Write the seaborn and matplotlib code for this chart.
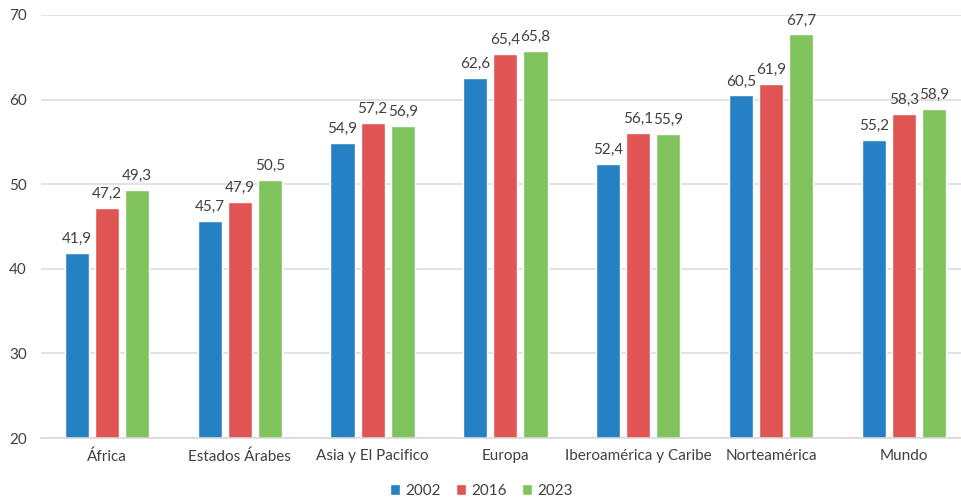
import matplotlib
matplotlib.use("Agg")
import matplotlib.pyplot as plt
import seaborn as sns
import pandas as pd

categories = ["África", "Estados Árabes", "Asia y El Pacifico", "Europa",
              "Iberoamérica y Caribe", "Norteamérica", "Mundo"]
years = ["2002", "2016", "2023"]
v2002 = [41.9, 45.7, 54.9, 62.6, 52.4, 60.5, 55.2]
v2016 = [47.2, 47.9, 57.2, 65.4, 56.1, 61.9, 58.3]
v2023 = [49.3, 50.5, 56.9, 65.8, 55.9, 67.7, 58.9]
colors = ["#2581C4", "#E05453", "#80C25B"]

rows = []
for yr, vals in zip(years, [v2002, v2016, v2023]):
    for c, v in zip(categories, vals):
        rows.append({"cat": c, "year": yr, "val": v})
df = pd.DataFrame(rows)

sns.set_style("white")
plt.rcParams['font.family'] = ['Lato', 'DejaVu Sans']

fig = plt.figure(figsize=(9.62, 4.97), dpi=100)
ax = fig.add_axes([40.6/962, 59/497, 929.6/962, 423/497])
sns.barplot(data=df, x="cat", y="val", hue="year", palette=colors,
            width=0.68, gap=0.2, ax=ax, saturation=1, legend=False,
            order=categories, hue_order=years)
ax.set_ylim(20, 70)
ax.set_xlim(-0.5, 6.5)
ax.set_yticks(range(20, 71, 10))
ax.yaxis.grid(True, color="#DDDDDD", linewidth=1.2)
ax.set_axisbelow(True)
for s in ["top", "right", "left"]:
    ax.spines[s].set_visible(False)
ax.spines["bottom"].set_color("#D9D9D9")
ax.spines["bottom"].set_linewidth(1.2)
ax.tick_params(axis="both", length=0, colors="#404040", labelsize=11)
ax.tick_params(axis="y", pad=10)
ax.tick_params(axis="x", pad=8)
ax.set_xlabel("")
ax.set_ylabel("")

for cont in ax.containers:
    labels = [f"{b.get_height():.1f}".replace(".", ",") for b in cont]
    ax.bar_label(cont, labels=labels, padding=5, fontsize=11, color="#404040")

from matplotlib.patches import Patch
handles = [Patch(facecolor=c, label=y) for c, y in zip(colors, years)]
fig.legend(handles=handles, loc="lower center", ncol=3, frameon=False,
           bbox_to_anchor=(0.5, -0.03), fontsize=11, handlelength=0.7,
           handleheight=0.7, handletextpad=0.3, columnspacing=1.0,
           labelcolor="#404040")

fig.savefig("out.png", dpi=100)
